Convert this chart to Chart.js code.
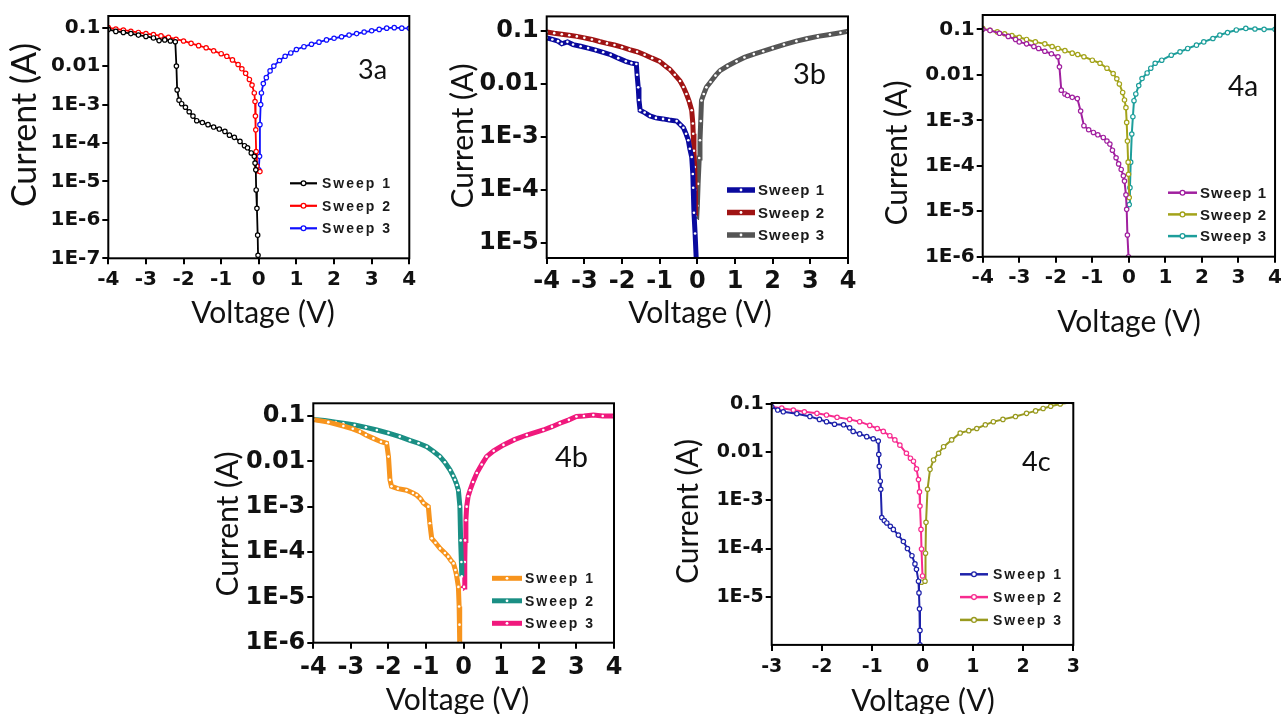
<!DOCTYPE html>
<html><head><meta charset="utf-8">
<script src="https://cdn.jsdelivr.net/npm/chart.js@4.4.1/dist/chart.umd.min.js"></script>
<style>
html,body{margin:0;padding:0;background:#fff;overflow:hidden;width:1285px;height:714px}
canvas{position:absolute;left:0;top:0}
</style></head><body>
<canvas id="c3a" width="1285" height="714"></canvas>
<canvas id="c3b" width="1285" height="714"></canvas>
<canvas id="c4a" width="1285" height="714"></canvas>
<canvas id="c4b" width="1285" height="714"></canvas>
<canvas id="c4c" width="1285" height="714"></canvas>
<script>
// ---------- tick labels ----------
const xTicks4 = [-4,-3,-2,-1,0,1,2,3,4];
const xTickLabels4 = ['-4','-3','-2','-1','0','1','2','3','4'];
const xTicks3 = [-3,-2,-1,0,1,2,3];
const xTickLabels3 = ['-3','-2','-1','0','1','2','3'];
const yTicks7 = [1e-7,1e-6,1e-5,1e-4,1e-3,0.01,0.1];
const yTickLabels7 = ['1E-7','1E-6','1E-5','1E-4','1E-3','0.01','0.1'];
const yTicks6 = [1e-6,1e-5,1e-4,1e-3,0.01,0.1];
const yTickLabels6 = ['1E-6','1E-5','1E-4','1E-3','0.01','0.1'];
const yTicks5 = [1e-5,1e-4,1e-3,0.01,0.1];
const yTickLabels5 = ['1E-5','1E-4','1E-3','0.01','0.1'];
const seriesNames = ['Sweep 1','Sweep 2','Sweep 3'];

// ---------- data: [voltage (V), current (A)] ----------
const d3a_s1 = [[-4,0.09],[-3.8,0.08],[-3.6,0.075],[-3.4,0.07],[-3.2,0.064],[-3.0,0.059],[-2.8,0.054],[-2.65,0.046],[-2.5,0.048],[-2.35,0.045],[-2.22,0.043],[-2.19,0.01],[-2.17,2.4e-3],[-2.12,1.3e-3],[-2.05,1.05e-3],[-1.95,8.5e-4],[-1.85,6.5e-4],[-1.75,5e-4],[-1.65,3.8e-4],[-1.5,3.4e-4],[-1.35,3e-4],[-1.2,2.6e-4],[-1.05,2.3e-4],[-0.9,2e-4],[-0.78,1.6e-4],[-0.65,1.4e-4],[-0.5,1.1e-4],[-0.38,8.5e-5],[-0.3,7.5e-5],[-0.2,5.5e-5],[-0.12,4.5e-5],[-0.1,3e-5],[-0.08,2e-5],[-0.07,6e-6],[-0.05,2e-6],[-0.03,4e-7],[-0.02,1.2e-7]];
const d3a_s2 = [[-4,0.1],[-3.8,0.092],[-3.6,0.087],[-3.4,0.08],[-3.2,0.075],[-3.0,0.07],[-2.8,0.066],[-2.6,0.061],[-2.4,0.056],[-2.2,0.05],[-2.0,0.045],[-1.8,0.039],[-1.6,0.034],[-1.4,0.03],[-1.2,0.025],[-1.0,0.021],[-0.85,0.018],[-0.7,0.0145],[-0.55,0.011],[-0.45,0.0085],[-0.35,0.0065],[-0.25,0.0045],[-0.18,0.0032],[-0.12,0.002],[-0.1,0.0012],[-0.09,5e-4],[-0.08,2.2e-4],[-0.07,6e-5],[-0.05,2.5e-5],[-0.03,1.9e-5],[0.03,1.8e-5]];
const d3a_s3 = [[0.0,2e-5],[0.02,4.5e-5],[0.03,3e-4],[0.05,1e-3],[0.07,2e-3],[0.12,3.5e-3],[0.2,5e-3],[0.3,7.5e-3],[0.4,0.01],[0.55,0.014],[0.7,0.018],[0.85,0.022],[1.0,0.027],[1.2,0.032],[1.4,0.037],[1.6,0.042],[1.8,0.048],[2.0,0.053],[2.2,0.058],[2.4,0.064],[2.6,0.07],[2.8,0.077],[3.0,0.083],[3.2,0.09],[3.4,0.097],[3.6,0.1],[3.8,0.097],[4.0,0.096]];

const d3b_s1 = [[-4,0.075],[-3.85,0.07],[-3.7,0.065],[-3.6,0.058],[-3.45,0.063],[-3.3,0.056],[-3.1,0.052],[-2.9,0.048],[-2.7,0.044],[-2.5,0.04],[-2.3,0.036],[-2.1,0.031],[-1.9,0.027],[-1.75,0.025],[-1.62,0.024],[-1.6,0.015],[-1.57,0.0087],[-1.55,0.005],[-1.52,3.2e-3],[-1.4,2.9e-3],[-1.26,2.5e-3],[-1.1,2.3e-3],[-0.91,2.2e-3],[-0.75,2.1e-3],[-0.55,2e-3],[-0.45,1.7e-3],[-0.37,1.5e-3],[-0.3,1.15e-3],[-0.24,8.7e-4],[-0.2,6e-4],[-0.15,4.2e-4],[-0.12,2e-4],[-0.11,1.1e-4],[-0.09,3.7e-5],[-0.06,1.5e-5],[-0.03,5e-6]];
const d3b_s2 = [[-4,0.097],[-3.8,0.092],[-3.6,0.088],[-3.4,0.084],[-3.2,0.08],[-3.0,0.075],[-2.8,0.07],[-2.6,0.064],[-2.4,0.059],[-2.2,0.055],[-2.0,0.05],[-1.8,0.045],[-1.6,0.041],[-1.4,0.036],[-1.2,0.031],[-1.0,0.027],[-0.85,0.022],[-0.73,0.019],[-0.6,0.015],[-0.46,0.0115],[-0.37,0.0088],[-0.29,0.0065],[-0.22,0.0048],[-0.15,0.0032],[-0.12,0.0018],[-0.11,0.00115],[-0.09,5.5e-4],[-0.07,2.7e-4],[-0.06,1e-4],[-0.05,3.2e-5]];
const d3b_s3 = [[-0.02,2.7e-5],[0.0,5e-5],[0.02,1.3e-4],[0.05,4e-4],[0.07,8.7e-4],[0.09,2e-3],[0.11,4.9e-3],[0.17,6.5e-3],[0.24,8.7e-3],[0.35,0.011],[0.48,0.0145],[0.6,0.018],[0.8,0.022],[1.04,0.027],[1.25,0.032],[1.5,0.037],[1.75,0.042],[2.0,0.048],[2.3,0.056],[2.63,0.065],[2.9,0.072],[3.2,0.08],[3.52,0.087],[3.8,0.094],[4.0,0.1]];

const d4a_s1 = [[-4,0.1],[-3.8,0.095],[-3.54,0.082],[-3.3,0.07],[-3.1,0.06],[-3.0,0.053],[-2.8,0.048],[-2.6,0.042],[-2.47,0.038],[-2.3,0.033],[-2.12,0.029],[-1.94,0.025],[-1.9,0.015],[-1.85,0.0046],[-1.75,0.0038],[-1.68,0.0035],[-1.55,0.0032],[-1.41,0.003],[-1.32,0.0016],[-1.23,7.6e-4],[-1.1,6.2e-4],[-0.97,5.4e-4],[-0.85,4.8e-4],[-0.7,4.2e-4],[-0.6,3.5e-4],[-0.52,3e-4],[-0.45,2.2e-4],[-0.35,1.5e-4],[-0.28,1.1e-4],[-0.21,8.3e-5],[-0.15,6e-5],[-0.12,4.6e-5],[-0.08,2.3e-5],[-0.06,1.1e-5],[-0.04,3e-6],[-0.01,1e-6]];
const d4a_s2 = [[-4,0.105],[-3.8,0.095],[-3.6,0.088],[-3.4,0.08],[-3.2,0.073],[-3.0,0.067],[-2.8,0.06],[-2.56,0.053],[-2.3,0.048],[-2.1,0.042],[-1.94,0.038],[-1.75,0.034],[-1.55,0.03],[-1.4,0.028],[-1.23,0.025],[-1.0,0.021],[-0.79,0.018],[-0.6,0.014],[-0.43,0.0107],[-0.33,0.0082],[-0.26,0.0063],[-0.17,0.0041],[-0.12,0.0028],[-0.08,0.0019],[-0.06,9e-4],[-0.04,3.5e-4],[-0.02,1.2e-4],[-0.01,6.5e-5],[0.01,2e-5]];
const d4a_s3 = [[0.01,1.4e-5],[0.03,3.3e-5],[0.05,1.2e-4],[0.08,5e-4],[0.11,1.2e-3],[0.14,2.7e-3],[0.19,3.8e-3],[0.27,5.8e-3],[0.36,8.3e-3],[0.5,0.011],[0.6,0.014],[0.72,0.018],[0.9,0.021],[1.16,0.027],[1.4,0.032],[1.61,0.038],[1.85,0.045],[2.05,0.053],[2.3,0.063],[2.49,0.075],[2.7,0.085],[2.94,0.097],[3.2,0.105],[3.45,0.102],[3.7,0.1],[4.0,0.1]];

const d4b_s1 = [[-4,0.083],[-3.6,0.073],[-3.2,0.06],[-2.95,0.052],[-2.76,0.045],[-2.6,0.038],[-2.4,0.032],[-2.2,0.027],[-2.05,0.025],[-2.0,0.0127],[-1.96,3.9e-3],[-1.92,2.8e-3],[-1.75,2.5e-3],[-1.52,2.3e-3],[-1.35,2e-3],[-1.25,1.8e-3],[-1.15,1.5e-3],[-1.07,1.2e-3],[-0.94,1e-3],[-0.9,4.3e-4],[-0.85,2e-4],[-0.75,1.6e-4],[-0.63,1.2e-4],[-0.5,9.5e-5],[-0.41,7.9e-5],[-0.34,6.5e-5],[-0.27,5.6e-5],[-0.22,4e-5],[-0.19,3.1e-5],[-0.14,1.7e-5],[-0.12,6.3e-6],[-0.11,2.5e-6],[-0.1,1e-6]];
const d4b_s2 = [[-4,0.084],[-3.7,0.079],[-3.4,0.073],[-3.2,0.069],[-2.9,0.063],[-2.6,0.056],[-2.31,0.049],[-2.0,0.042],[-1.7,0.035],[-1.43,0.029],[-1.2,0.025],[-0.98,0.021],[-0.8,0.0165],[-0.63,0.0127],[-0.5,0.0095],[-0.36,0.0064],[-0.28,0.0048],[-0.23,0.0039],[-0.18,0.003],[-0.14,0.0023],[-0.1,0.001],[-0.08,1.8e-4],[-0.06,6e-5],[-0.05,2.9e-5]];
const d4b_s3 = [[-0.05,1.5e-5],[0.01,1.7e-5],[0.03,6e-5],[0.04,1.8e-4],[0.06,5e-4],[0.08,1e-3],[0.12,1.7e-3],[0.17,2.3e-3],[0.25,3.5e-3],[0.35,5.5e-3],[0.48,8.5e-3],[0.61,0.0127],[0.8,0.017],[1.06,0.023],[1.35,0.03],[1.68,0.038],[2.12,0.049],[2.35,0.058],[2.56,0.069],[2.8,0.082],[3.0,0.097],[3.2,0.1],[3.45,0.105],[3.7,0.1],[4.0,0.1]];

const d4c_s1 = [[-3,0.088],[-2.88,0.075],[-2.77,0.069],[-2.5,0.063],[-2.24,0.055],[-2.05,0.048],[-1.91,0.043],[-1.75,0.038],[-1.57,0.037],[-1.45,0.032],[-1.38,0.027],[-1.25,0.024],[-1.11,0.021],[-0.98,0.019],[-0.88,0.017],[-0.87,0.009],[-0.86,5.1e-3],[-0.84,2.5e-3],[-0.83,1.7e-3],[-0.81,4.4e-4],[-0.76,3.8e-4],[-0.71,3.4e-4],[-0.64,2.9e-4],[-0.58,2.5e-4],[-0.48,1.9e-4],[-0.38,1.4e-4],[-0.3,1e-4],[-0.21,7.1e-5],[-0.15,4.8e-5],[-0.12,3.7e-5],[-0.08,2.1e-5],[-0.07,1.2e-5],[-0.06,5.6e-6],[-0.05,2e-6],[-0.05,1e-6]];
const d4c_s2 = [[-3,0.088],[-2.8,0.082],[-2.57,0.075],[-2.35,0.069],[-2.1,0.064],[-1.91,0.059],[-1.7,0.053],[-1.45,0.048],[-1.25,0.043],[-1.05,0.036],[-0.9,0.031],[-0.78,0.027],[-0.65,0.022],[-0.55,0.018],[-0.45,0.014],[-0.32,0.0095],[-0.24,0.0075],[-0.18,0.0065],[-0.12,0.0045],[-0.08,0.0027],[-0.06,0.0015],[-0.05,7.6e-4],[-0.03,2.5e-4],[-0.02,9.8e-5],[0.0,2.7e-5]];
const d4c_s3 = [[-0.02,2e-5],[0.05,2.1e-5],[0.06,8e-5],[0.07,3.5e-4],[0.1,1.7e-3],[0.15,4.4e-3],[0.22,6.9e-3],[0.32,9.5e-3],[0.42,0.013],[0.58,0.018],[0.75,0.025],[0.92,0.028],[1.08,0.031],[1.25,0.037],[1.41,0.043],[1.6,0.048],[1.85,0.055],[2.07,0.064],[2.25,0.072],[2.4,0.081],[2.55,0.09],[2.74,0.1],[3.0,0.11]];

// ---------- rendering ----------
const PW = 1285, PH = 714;
const TITLE_FONT = 'Lato, "Open Sans", sans-serif';

function makeExtras(cfg){
  return {
    id:'extras_'+cfg.id,
    afterDraw(chart){
      const ctx = chart.ctx, a = chart.chartArea;
      ctx.save();
      // frame
      ctx.strokeStyle = '#000'; ctx.lineWidth = 2;
      ctx.strokeRect(a.left, a.top, a.right - a.left, a.bottom - a.top);
      ctx.fillStyle = '#111';
      // x title
      ctx.font = cfg.xTitle.size + 'px ' + TITLE_FONT;
      ctx.textAlign = 'center'; ctx.textBaseline = 'middle';
      ctx.fillText(cfg.xTitle.text, cfg.xTitle.x, cfg.xTitle.y);
      // y title
      ctx.save();
      ctx.translate(cfg.yTitle.x, cfg.yTitle.y); ctx.rotate(-Math.PI/2);
      ctx.font = cfg.yTitle.size + 'px ' + TITLE_FONT;
      ctx.fillText(cfg.yTitle.text, 0, 0);
      ctx.restore();
      // panel tag
      ctx.font = cfg.tag.size + 'px ' + TITLE_FONT;
      ctx.textAlign = 'left';
      ctx.fillText(cfg.tag.text, cfg.tag.x, cfg.tag.y);
      // legend
      const lg = cfg.legend;
      chart.data.datasets.forEach((ds, i) => {
        const y = lg.y0 + i * lg.dy;
        ctx.strokeStyle = ds.borderColor; ctx.lineWidth = lg.lw;
        ctx.beginPath(); ctx.moveTo(lg.x, y); ctx.lineTo(lg.x + lg.len, y); ctx.stroke();
        const cx = lg.x + lg.len/2;
        ctx.beginPath(); ctx.arc(cx, y, cfg.thick ? 1.4 : 2.4, 0, Math.PI*2);
        ctx.fillStyle = '#fff'; ctx.fill();
        if (!cfg.thick){ ctx.lineWidth = 1.3; ctx.strokeStyle = ds.borderColor; ctx.stroke(); }
        ctx.fillStyle = '#1a1a1a';
        ctx.font = 'bold ' + lg.size + 'px "Liberation Sans", Arial, sans-serif';
        if ('letterSpacing' in ctx) ctx.letterSpacing = lg.sp + 'px';
        ctx.textAlign = 'left'; ctx.textBaseline = 'middle';
        ctx.fillText(ds.label, lg.tx, y + 1);
        if ('letterSpacing' in ctx) ctx.letterSpacing = '0px';
      });
      ctx.restore();
    }
  };
}

function panel(cfg){
  const {L, R, T, B} = cfg.frame;
  const yW = 100, xH = 40;
  const tickFont = {family:'"DejaVu Sans", sans-serif', weight:'bold', size:cfg.tickSize};
  new Chart(document.getElementById(cfg.id), {
    type:'scatter',
    data:{datasets: cfg.series.map((s, i) => ({
      label: seriesNames[i],
      data: s.data.map(p => ({x:p[0], y:p[1]})),
      showLine:true, tension:0,
      borderColor:s.color, backgroundColor:s.color,
      borderWidth:cfg.lw,
      pointRadius:cfg.pr,
      pointBackgroundColor:'#fff',
      pointBorderColor:s.color,
      pointBorderWidth:cfg.thick ? 0 : 1.2
    }))},
    options:{
      responsive:false, animation:false, events:[],
      layout:{autoPadding:false, padding:{left:L - yW, top:T, right:PW - R, bottom:PH - B - xH}},
      plugins:{legend:{display:false}, tooltip:{enabled:false}},
      scales:{
        x:{type:'linear', min:cfg.xMin, max:cfg.xMax, bounds:'data',
          afterBuildTicks:ax => { ax.ticks = cfg.xTicks.map(v => ({value:v})); },
          afterFit:s => { s.height = xH; },
          grid:{display:true, drawOnChartArea:false, drawTicks:true, tickLength:6, color:'#000', lineWidth:2},
          border:{display:false},
          ticks:{color:'#111', font:tickFont, padding:cfg.xPad, maxRotation:0, autoSkip:false,
            callback:(v, i) => cfg.xLabels[i]}
        },
        y:{type:'logarithmic', min:cfg.yMin, max:cfg.yMax, bounds:'data',
          afterBuildTicks:ax => { ax.ticks = cfg.yTicks.map(v => ({value:v})); },
          afterFit:s => { s.width = yW; },
          grid:{display:true, drawOnChartArea:false, drawTicks:true, tickLength:6, color:'#000', lineWidth:2},
          border:{display:false},
          ticks:{color:'#111', font:tickFont, padding:2, autoSkip:false,
            callback:(v, i) => cfg.yLabels[i]}
        }
      }
    },
    plugins:[makeExtras(cfg)]
  });
}

panel({id:'c3a', frame:{L:108.3, R:409.3, T:16, B:258.3},
  xMin:-4, xMax:4, xTicks:xTicks4, xLabels:xTickLabels4,
  yMin:1e-7, yMax:0.201, yTicks:yTicks7, yLabels:yTickLabels7,
  tickSize:20, xPad:3, lw:1.8, pr:2.2, thick:false,
  series:[{data:d3a_s1, color:'#000000'},{data:d3a_s2, color:'#ff0000'},{data:d3a_s3, color:'#1010ff'}],
  xTitle:{text:'Voltage (V)', x:263, y:313, size:30},
  yTitle:{text:'Current (A)', x:25, y:125, size:34},
  tag:{text:'3a', x:358, y:70, size:27},
  legend:{x:290, len:27, tx:322, y0:183.3, dy:22.5, lw:2.2, size:14, sp:2}
});
panel({id:'c3b', frame:{L:546.7, R:848, T:15, B:258},
  xMin:-4, xMax:4, xTicks:xTicks4, xLabels:xTickLabels4,
  yMin:5.15e-6, yMax:0.191, yTicks:yTicks5, yLabels:yTickLabels5,
  tickSize:24, xPad:3, lw:5, pr:1.3, thick:true,
  series:[{data:d3b_s1, color:'#0a0a9e'},{data:d3b_s2, color:'#a01414'},{data:d3b_s3, color:'#555555'}],
  xTitle:{text:'Voltage (V)', x:700, y:313, size:30},
  yTitle:{text:'Current (A)', x:463, y:136, size:30},
  tag:{text:'3b', x:793, y:75, size:29},
  legend:{x:727, len:28, tx:758, y0:190, dy:22.5, lw:5.5, size:15, sp:1}
});
panel({id:'c4a', frame:{L:982.7, R:1283.3, T:15, B:256.7},
  xMin:-4, xMax:4, xTicks:xTicks4, xLabels:xTickLabels4,
  yMin:1e-6, yMax:0.207, yTicks:yTicks6, yLabels:yTickLabels6,
  tickSize:20, xPad:3, lw:2, pr:2.2, thick:false,
  series:[{data:d4a_s1, color:'#a0209f'},{data:d4a_s2, color:'#a3a31a'},{data:d4a_s3, color:'#1d9e9b'}],
  xTitle:{text:'Voltage (V)', x:1129, y:322, size:30},
  yTitle:{text:'Current (A)', x:897, y:153, size:30},
  tag:{text:'4a', x:1228, y:87, size:28},
  legend:{x:1168, len:29, tx:1200, y0:192.7, dy:21.7, lw:2.5, size:15, sp:1}
});
panel({id:'c4b', frame:{L:313.3, R:614, T:403.3, B:642.7},
  xMin:-4, xMax:4, xTicks:xTicks4, xLabels:xTickLabels4,
  yMin:1e-6, yMax:0.19, yTicks:yTicks6, yLabels:yTickLabels6,
  tickSize:24, xPad:5, lw:5, pr:1.3, thick:true,
  series:[{data:d4b_s1, color:'#f7941d'},{data:d4b_s2, color:'#1a8f84'},{data:d4b_s3, color:'#f0197d'}],
  xTitle:{text:'Voltage (V)', x:457.5, y:700, size:30},
  yTitle:{text:'Current (A)', x:228, y:524, size:30},
  tag:{text:'4b', x:555, y:458, size:29},
  legend:{x:492, len:30, tx:525, y0:578.3, dy:22.5, lw:5, size:14, sp:2}
});
panel({id:'c4c', frame:{L:771.7, R:1073.3, T:403, B:644.9},
  xMin:-3, xMax:3, xTicks:xTicks3, xLabels:xTickLabels3,
  yMin:1e-6, yMax:0.105, yTicks:yTicks5, yLabels:yTickLabels5,
  tickSize:19, xPad:5, lw:2, pr:2.2, thick:false,
  series:[{data:d4c_s1, color:'#1e22aa'},{data:d4c_s2, color:'#f72b8f'},{data:d4c_s3, color:'#999a1f'}],
  xTitle:{text:'Voltage (V)', x:923, y:701, size:30},
  yTitle:{text:'Current (A)', x:688, y:511.5, size:30},
  tag:{text:'4c', x:1022, y:462, size:27},
  legend:{x:960, len:28, tx:993, y0:574.3, dy:22.8, lw:2.5, size:14, sp:2}
});
</script>
</body></html>
